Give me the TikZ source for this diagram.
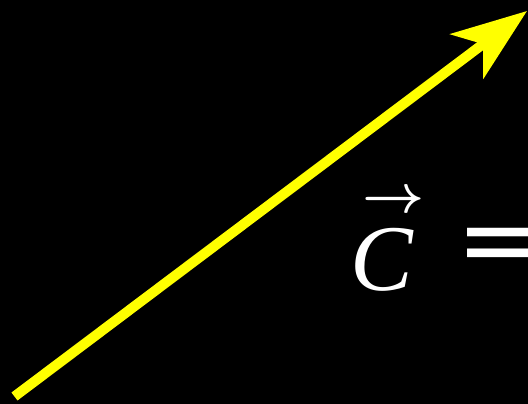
\documentclass[tikz,border=0pt]{standalone}
\usepackage{bm}
\usepackage{fontspec}
\setmainfont{Liberation Serif}
\newfontfamily\symfont{DejaVu Sans}
\usepackage{tikz}
\usetikzlibrary{arrows.meta}
\definecolor{cbg}{HTML}{000000}
\definecolor{cvec}{HTML}{FFFF00}
\definecolor{ctxt}{HTML}{FFFFFF}
\tikzset{
  vecl/.style={-{Stealth[length=75pt, width=55pt, inset=20pt]}, draw=cvec, line width=10pt},
  sym/.style={text=ctxt, inner sep=0pt, outer sep=0pt}
}

\begin{document}
\begin{tikzpicture}[x=1pt, y=-1pt]

\fill[cbg] (0,0) rectangle (528,404);
\useasboundingbox (0,0) rectangle (528,404);
\clip (0,0) rectangle (528,404);

\coordinate (tail) at (14.5,396.5);
\coordinate (head) at (527,11);
\draw[vecl] (tail) -- (head);

\node[sym, anchor=base west, font=\fontsize{94}{94}\selectfont\itshape] (cc) at (350,290) {C};
\node[sym, anchor=center, scale=5.4] (carr) at (394,202) {$\bm{\rightarrow}$};
\node[sym, anchor=west, font=\fontsize{104}{104}\selectfont\symfont] (eq) at (456,251.5) {=};

\end{tikzpicture}
\end{document}
